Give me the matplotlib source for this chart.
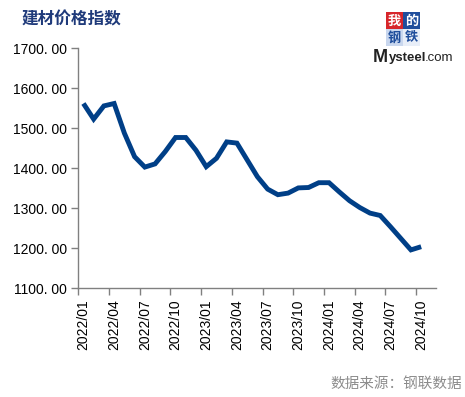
import matplotlib
matplotlib.use("Agg")
import matplotlib.pyplot as plt
from matplotlib.patches import Rectangle

months = [f"{y}/{m:02d}" for y in (2022, 2023, 2024) for m in range(1, 13)][:34]
values = [1562, 1523, 1556, 1562, 1488, 1429, 1403, 1411, 1442, 1477, 1477, 1445,
          1404, 1425, 1466, 1463, 1421, 1379, 1348, 1334, 1338, 1351, 1352, 1364,
          1364, 1341, 1319, 1302, 1288, 1282, 1254, 1225, 1196, 1204]
yticks = [1100, 1200, 1300, 1400, 1500, 1600, 1700]
title = "建材价格指数"
source = "数据来源：钢联数据"

W, H = 465, 397
fig = plt.figure(figsize=(W / 100, H / 100), dpi=100)
fig.patch.set_facecolor("white")
ax = fig.add_axes([78.3 / W, 1 - 288.3 / H, (436.5 - 78.3) / W, (288.3 - 48.3) / H])

x = list(range(len(values)))
ax.plot(x, values, color="#003F87", lw=3.5, solid_joinstyle="miter", solid_capstyle="butt")

ax.set_xlim(-0.5, 34.5)
ax.set_ylim(1100, 1700)
ax.set_yticks(yticks)
ax.set_yticklabels([f"{v}. 00" for v in yticks], fontfamily="Liberation Sans", fontsize=10)

# category-axis ticks between categories, labels at every third month
ax.set_xticks([i - 0.5 for i in range(0, 34, 3)])
ax.set_xticklabels([])
ax.set_xticks(list(range(0, 34, 3)), minor=True)
ax.set_xticklabels([months[i] for i in range(0, 34, 3)], minor=True, rotation=90,
                   fontfamily="Liberation Sans", fontsize=10)
ax.tick_params(axis="x", which="minor", length=0, pad=8)
ax.tick_params(axis="x", which="major", length=5, color="#808080", width=1)
ax.tick_params(axis="y", length=5, color="#808080", width=1, pad=3)

for s in ("top", "right"):
    ax.spines[s].set_visible(False)
for s in ("left", "bottom"):
    ax.spines[s].set_color("#808080")
    ax.spines[s].set_linewidth(1)

fig.text(22 / W, 1 - 19 / H, title, fontsize=12, fontweight="bold", color="#1F3A7A",
         family=["Noto Sans CJK SC", "DejaVu Sans"], va="center", ha="left")
fig.text(462 / W, 1 - 384 / H, source, fontsize=10.5, color="#8C8C8C",
         family=["Noto Sans CJK SC", "DejaVu Sans"], va="center", ha="right")

# logo
cells = [("我", 386, 12, "#D7262B", "white"), ("的", 403, 12, "#1F4E9C", "white"),
         ("钢", 386, 29, "#C9D7EE", "#1F4E9C"), ("铁", 403, 29, "#E8EEF8", "#1F4E9C")]
for ch, cx, cy, bg, fg in cells:
    fig.patches.append(Rectangle((cx / W, 1 - (cy + 16.5) / H), 16.5 / W, 16.5 / H,
                                 transform=fig.transFigure, facecolor=bg, edgecolor="none"))
    fig.text((cx + 8.25) / W, 1 - (cy + 8.5) / H, ch, fontsize=9.5, color=fg,
             fontweight="bold", family=["Noto Sans CJK SC", "DejaVu Sans"],
             ha="center", va="center")
fig.text(373 / W, 1 - 57 / H, "M", fontsize=13, fontweight="bold", color="#222222",
         family="Liberation Sans", ha="left", va="center")
fig.text(389 / W, 1 - 58 / H, "ysteel", fontsize=9.5, fontweight="bold", color="#222222",
         family="Liberation Sans", ha="left", va="center")
fig.text(425 / W, 1 - 58 / H, ".com", fontsize=9.5, color="#222222",
         family="Liberation Sans", ha="left", va="center")

fig.savefig("out.png", dpi=100)
